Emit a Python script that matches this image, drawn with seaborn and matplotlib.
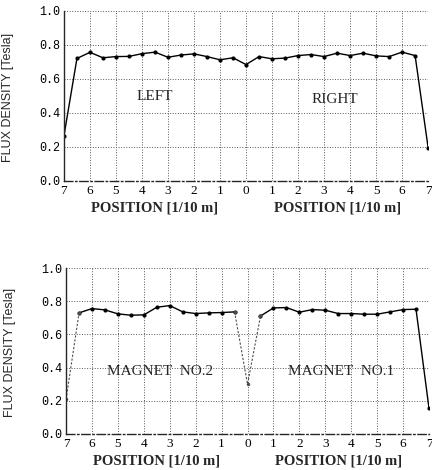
import numpy as np
import pandas as pd
import seaborn as sns
import matplotlib.pyplot as plt

# position along the magnet, left side negative (labels shown as absolute values)
position = [-7, -6.5, -6, -5.5, -5, -4.5, -4, -3.5, -3, -2.5, -2, -1.5, -1, -0.5,
            0, 0.5, 1, 1.5, 2, 2.5, 3, 3.5, 4, 4.5, 5, 5.5, 6, 6.5, 7]

# flux density [Tesla], upper panel (LEFT / RIGHT)
flux_left_right = [0.265, 0.720, 0.756, 0.724, 0.731, 0.732, 0.748, 0.757, 0.727, 0.740,
                   0.747, 0.731, 0.712, 0.724, 0.684, 0.731, 0.718, 0.722, 0.737, 0.743,
                   0.731, 0.751, 0.737, 0.751, 0.735, 0.731, 0.757, 0.737, 0.196]

# flux density [Tesla], lower panel (MAGNET NO.2 / MAGNET NO.1)
flux_magnets = [0.210, 0.730, 0.756, 0.748, 0.724, 0.716, 0.718, 0.764, 0.774, 0.736,
                0.726, 0.730, 0.732, 0.736, 0.300, 0.711, 0.760, 0.762, 0.734, 0.750,
                0.746, 0.726, 0.726, 0.722, 0.722, 0.736, 0.750, 0.752, 0.156]

x_ticks = [-7, -6, -5, -4, -3, -2, -1, 0, 1, 2, 3, 4, 5, 6, 7]
x_ticklabels = ['7', '6', '5', '4', '3', '2', '1', '0', '1', '2', '3', '4', '5', '6', '7']
y_ticks = [0.0, 0.2, 0.4, 0.6, 0.8, 1.0]

sns.set_style('white')
plt.rcParams['font.family'] = ['Liberation Serif', 'DejaVu Serif']

df = pd.DataFrame({'pos': position, 'top': flux_left_right, 'bottom': flux_magnets})

fig = plt.figure(figsize=(4.32, 4.70), dpi=100)
ax1 = fig.add_axes([0.148, 0.615, 0.843, 0.362])
ax2 = fig.add_axes([0.153, 0.0766, 0.840, 0.353])


def style_axis(ax, label_y):
    ax.set_xlim(-7, 7)
    ax.set_ylim(0, 1.0)
    ax.set_xticks(x_ticks)
    ax.set_xticklabels(x_ticklabels, fontsize=9.5)
    ax.set_yticks(y_ticks)
    ax.set_yticklabels(['%.1f' % v for v in y_ticks], fontsize=8.5, family='Liberation Mono')
    ax.grid(True, linestyle=':', color='0.35', linewidth=0.7)
    for side in ['top', 'right']:
        ax.spines[side].set_visible(False)
    ax.spines['left'].set_linewidth(1.0)
    ax.spines['bottom'].set_linewidth(1.0)
    ax.spines['bottom'].set_linestyle((0, (6, 2, 1, 2)))
    ax.tick_params(axis='both', direction='inout', length=4, width=0.8, pad=1, colors='black')
    ax.set_xlabel('')
    ax.set_ylabel('FLUX DENSITY [Tesla]', fontsize=9, family='Liberation Sans')
    ax.yaxis.set_label_coords(-0.137, 0.49)
    ax.text(0.25, label_y, 'POSITION [1/10 m]', transform=ax.transAxes,
            ha='center', va='center', fontsize=10.5, fontweight='bold')
    ax.text(0.75, label_y, 'POSITION [1/10 m]', transform=ax.transAxes,
            ha='center', va='center', fontsize=10.5, fontweight='bold')


sns.lineplot(data=df, x='pos', y='top', ax=ax1, color='black', linewidth=1.0,
             marker='o', markersize=3, markeredgewidth=0)
style_axis(ax1, -0.16)
ax1.text(-3.5, 0.494, 'LEFT', ha='center', va='center', fontsize=11)
ax1.text(3.4, 0.476, 'RIGHT', ha='center', va='center', fontsize=11)

# lower panel: end and centre drops drawn faint/dashed as in the original
solid_l = df.iloc[1:14]
solid_r = df.iloc[15:29]
dash_end = df.iloc[0:2]
dash_mid = df.iloc[13:16]
for part in [solid_l, solid_r]:
    sns.lineplot(data=part, x='pos', y='bottom', ax=ax2, color='black', linewidth=1.0,
                 marker='o', markersize=3, markeredgewidth=0)
for part in [dash_end, dash_mid]:
    sns.lineplot(data=part, x='pos', y='bottom', ax=ax2, color='0.3', linewidth=0.8,
                 linestyle=(0, (2, 1.5)), marker='o', markersize=2.5, markeredgewidth=0)
style_axis(ax2, -0.165)
ax2.text(-3.37, 0.374, 'MAGNET  NO.2', ha='center', va='center', fontsize=11)
ax2.text(3.62, 0.374, 'MAGNET  NO.1', ha='center', va='center', fontsize=11)

fig.savefig('out.png', dpi=100)
